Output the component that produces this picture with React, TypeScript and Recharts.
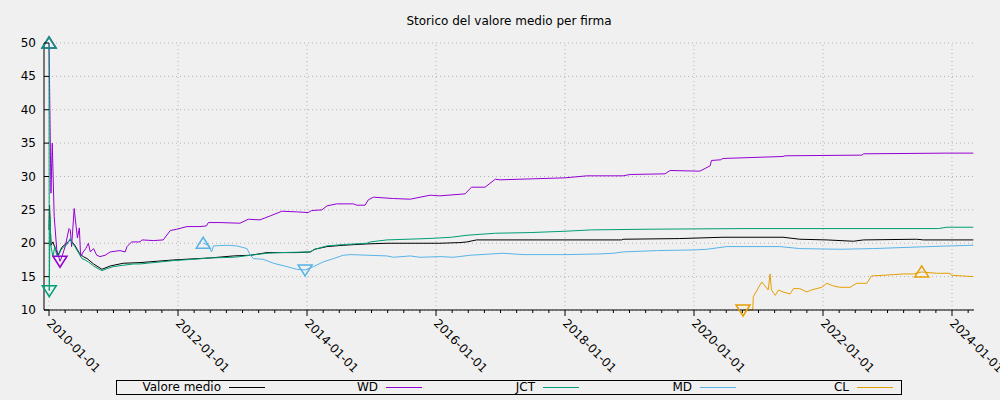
import React from 'react';
import { ComposedChart, Line, XAxis, YAxis, CartesianGrid, ReferenceLine } from 'recharts';

const title = 'Storico del valore medio per firma';
const seriesNames = ['Valore medio', 'WD', 'JCT', 'MD', 'CL'];
const seriesColors = ['#000000', '#9400d3', '#009e73', '#56b4e9', '#e69f00'];
const yTicks = [10, 15, 20, 25, 30, 35, 40, 45, 50];
const majorYears = [2010, 2012, 2014, 2016, 2018, 2020, 2022, 2024];

// [anno decimale, valore]
const valoreMedio: [number, number][] = [
  [2010.0, 22.0], [2010.008, 25.7], [2010.03, 19.7], [2010.06, 20.2], [2010.09, 19.4], [2010.14, 18.2],
  [2010.2, 19.4], [2010.27, 20.0], [2010.33, 20.5], [2010.4, 19.7], [2010.47, 18.5], [2010.53, 18.0],
  [2010.59, 17.7], [2010.69, 16.9], [2010.82, 16.1], [2010.95, 16.6], [2011.15, 17.0], [2011.41, 17.1],
  [2011.93, 17.5], [2012.5, 17.8], [2012.86, 18.1], [2013.12, 18.2], [2013.38, 18.6], [2013.84, 18.6],
  [2014.05, 18.7], [2014.12, 19.1], [2014.31, 19.5], [2014.56, 19.7], [2014.93, 19.9], [2015.24, 20.0],
  [2016.06, 20.0], [2016.37, 20.1], [2016.48, 20.2], [2016.63, 20.5], [2018.88, 20.5], [2018.9, 20.6],
  [2019.78, 20.7], [2020.45, 20.9], [2021.38, 20.9], [2021.64, 20.6], [2022.06, 20.5], [2022.47, 20.3],
  [2022.63, 20.5], [2023.45, 20.6], [2023.56, 20.5], [2024.33, 20.5],
];

const wd: [number, number][] = [
  [2010.0, 50.0], [2010.03, 27.5], [2010.05, 35.0], [2010.08, 24.0], [2010.12, 19.0], [2010.17, 17.3],
  [2010.2, 18.0], [2010.25, 19.5], [2010.31, 22.2], [2010.33, 22.0], [2010.35, 19.5], [2010.39, 25.2],
  [2010.42, 22.5], [2010.44, 20.8], [2010.47, 22.3], [2010.49, 18.0], [2010.53, 18.7], [2010.57, 19.2],
  [2010.61, 20.0], [2010.64, 18.7], [2010.69, 19.2], [2010.74, 18.2], [2010.79, 18.0], [2010.87, 18.2],
  [2010.95, 18.7], [2011.1, 18.9], [2011.18, 18.7], [2011.21, 19.5], [2011.28, 20.2], [2011.41, 20.2],
  [2011.44, 20.5], [2011.62, 20.4], [2011.77, 20.5], [2011.88, 21.9], [2011.98, 22.1], [2012.14, 22.5],
  [2012.34, 22.5], [2012.44, 22.6], [2012.47, 23.1], [2012.65, 23.1], [2012.96, 23.0], [2013.09, 23.6],
  [2013.27, 23.5], [2013.43, 24.1], [2013.61, 24.8], [2013.84, 24.7], [2014.02, 24.6], [2014.07, 24.9],
  [2014.23, 25.0], [2014.31, 25.6], [2014.46, 25.9], [2014.72, 25.9], [2014.77, 25.7], [2014.9, 25.7],
  [2014.95, 26.5], [2015.03, 26.9], [2015.34, 26.7], [2015.6, 26.6], [2015.91, 27.2], [2016.06, 27.1],
  [2016.45, 27.4], [2016.55, 28.4], [2016.76, 28.4], [2016.92, 29.6], [2016.99, 29.5], [2018.0, 29.8],
  [2018.34, 30.1], [2018.9, 30.1], [2019.01, 30.3], [2019.55, 30.4], [2019.63, 30.9], [2020.09, 30.8],
  [2020.25, 31.6], [2020.27, 32.4], [2020.41, 32.5], [2020.45, 32.7], [2021.38, 33.0], [2021.41, 33.1],
  [2022.6, 33.2], [2022.63, 33.4], [2023.92, 33.5], [2024.33, 33.5],
];

const jct: [number, number][] = [
  [2010.0, 50.0], [2010.004, 12.9], [2010.016, 23.8], [2010.031, 19.5], [2010.06, 18.0], [2010.09, 19.5],
  [2010.12, 18.2], [2010.14, 18.0], [2010.18, 18.9], [2010.22, 19.4], [2010.27, 19.7], [2010.33, 20.7],
  [2010.35, 20.2], [2010.4, 19.5], [2010.45, 18.7], [2010.51, 17.7], [2010.56, 17.5], [2010.61, 17.2],
  [2010.69, 16.6], [2010.76, 16.2], [2010.82, 15.9], [2010.9, 16.2], [2011.0, 16.5], [2011.15, 16.7],
  [2011.31, 16.9], [2011.41, 16.9], [2011.62, 17.1], [2011.93, 17.4], [2012.24, 17.6], [2012.5, 17.8],
  [2012.86, 17.9], [2012.96, 18.0], [2013.12, 18.2], [2013.38, 18.5], [2013.58, 18.6], [2014.05, 18.7],
  [2014.12, 19.1], [2014.31, 19.6], [2014.56, 19.8], [2014.93, 20.0], [2014.98, 20.2], [2015.24, 20.5],
  [2015.86, 20.7], [2016.06, 20.8], [2016.24, 20.9], [2016.48, 21.2], [2016.92, 21.5], [2017.46, 21.6],
  [2018.0, 21.8], [2018.41, 22.0], [2019.27, 22.1], [2020.79, 22.2], [2023.79, 22.2], [2023.92, 22.4],
  [2024.33, 22.4],
];

const md: [number, number][] = [
  [2012.39, 20.0], [2012.47, 19.7], [2012.52, 18.7], [2012.55, 19.6], [2012.76, 19.7], [2012.91, 19.6],
  [2013.07, 19.2], [2013.12, 18.2], [2013.17, 17.7], [2013.32, 17.6], [2013.48, 17.0], [2013.69, 16.5],
  [2013.84, 16.1], [2013.97, 16.0], [2014.1, 16.5], [2014.25, 17.2], [2014.41, 17.7], [2014.56, 18.2],
  [2014.67, 18.3], [2015.24, 18.1], [2015.34, 17.9], [2015.6, 18.1], [2015.75, 17.9], [2016.06, 18.0],
  [2016.27, 17.9], [2016.53, 18.2], [2017.04, 18.5], [2017.35, 18.3], [2018.03, 18.3], [2018.54, 18.4],
  [2018.75, 18.5], [2018.9, 18.7], [2019.42, 18.9], [2019.99, 19.0], [2020.2, 19.1], [2020.51, 19.5],
  [2021.33, 19.5], [2021.64, 19.2], [2022.26, 19.1], [2022.78, 19.2], [2023.35, 19.4], [2023.97, 19.6],
  [2024.33, 19.7],
];

const cl: [number, number][] = [
  [2020.76, 10.0], [2020.91, 10.0], [2020.92, 12.0], [2021.05, 14.2], [2021.15, 13.0], [2021.18, 15.4],
  [2021.2, 13.0], [2021.26, 12.2], [2021.31, 13.0], [2021.38, 12.7], [2021.49, 12.4], [2021.54, 13.2],
  [2021.64, 13.2], [2021.75, 12.7], [2021.82, 13.0], [2021.98, 13.4], [2022.06, 14.0], [2022.16, 13.6],
  [2022.26, 13.4], [2022.42, 13.4], [2022.52, 14.0], [2022.68, 14.0], [2022.75, 15.1], [2022.94, 15.2],
  [2023.09, 15.3], [2023.25, 15.4], [2023.4, 15.4], [2023.53, 15.7], [2023.76, 15.5], [2023.97, 15.5],
  [2023.99, 15.2], [2024.17, 15.1], [2024.33, 15.0],
];

const allSeries = [valoreMedio, wd, jct, md, cl];
const withMarkers = [false, true, true, true, true];

const toRows = (pts: [number, number][]) => pts.map(([x, y]) => ({ x, y }));

// tacche secondarie ogni trimestre
const xTicks: number[] = [];
for (let q = 2010 * 4; q <= 2024.25 * 4; q++) xTicks.push(q / 4);

const gridColor = '#b4b4b4';

const XTick = (props: any) => {
  const { x, y, payload } = props;
  const v = payload.value;
  const major = Math.abs(v - Math.round(v)) < 1e-6 && Math.round(v) % 2 === 0;
  const lx = x - 3;
  const ly = y + 14;
  return (
    <g>
      <line x1={x} x2={x} y1={y} y2={y + (major ? 6 : 3)} stroke="#000" />
      {major && (
        <text x={lx} y={ly} transform={`rotate(45, ${lx}, ${ly})`} fontSize={12} fill="#000" fontFamily="DejaVu Sans">
          {`${Math.round(v)}-01-01`}
        </text>
      )}
    </g>
  );
};

const YTickLeft = (props: any) => {
  const { x, y, payload } = props;
  return (
    <g>
      <line x1={x} x2={x + 5} y1={y} y2={y} stroke="#000" />
      <text x={x - 8} y={y} textAnchor="end" dominantBaseline="central" fontSize={12} fill="#000" fontFamily="DejaVu Sans">
        {payload.value}
      </text>
    </g>
  );
};

const YTickRight = (props: any) => {
  const { x, y } = props;
  return <line x1={x - 5} x2={x} y1={y} y2={y} stroke="#000" />;
};

const makeDot = (pts: [number, number][], color: string) => {
  let maxI = 0;
  let minI = 0;
  pts.forEach(([, v], i) => {
    if (v > pts[maxI][1]) maxI = i;
    if (v < pts[minI][1]) minI = i;
  });
  return (props: any) => {
    const { cx, cy, index, key } = props;
    if (index === maxI) {
      return (
        <polygon key={key} points={`${cx},${cy - 6} ${cx - 7},${cy + 5} ${cx + 7},${cy + 5}`}
          fill="none" stroke={color} strokeWidth={1.5} />
      );
    }
    if (index === minI) {
      return (
        <polygon key={key} points={`${cx - 7},${cy - 5} ${cx + 7},${cy - 5} ${cx},${cy + 6}`}
          fill="none" stroke={color} strokeWidth={1.5} />
      );
    }
    return <g key={key} />;
  };
};

export default function App() {
  return (
    <div style={{ position: 'absolute', left: 0, top: 0, width: 1000, height: 400, background: '#f0f0f0', fontFamily: 'DejaVu Sans', overflow: 'hidden' }}>
      <div style={{ position: 'absolute', left: 309, width: 400, top: 14, textAlign: 'center', fontSize: 12, color: '#000' }}>
        {title}
      </div>
      <ComposedChart width={1000} height={400} margin={{ top: 43, right: 26, left: 0, bottom: 0 }}>
        <CartesianGrid yAxisId="left" vertical={false} stroke={gridColor} strokeDasharray="1 3" />
        <XAxis
          dataKey="x"
          type="number"
          domain={[2009.922, 2024.341]}
          ticks={xTicks}
          interval={0}
          tickSize={0}
          tickMargin={0}
          tickLine={false}
          tick={<XTick />}
          axisLine={{ stroke: '#000' }}
          height={90}
        />
        <YAxis
          yAxisId="left"
          type="number"
          domain={[10, 50]}
          ticks={yTicks}
          interval={0}
          tickSize={0}
          tickMargin={0}
          tickLine={false}
          tick={<YTickLeft />}
          axisLine={{ stroke: '#000' }}
          width={44}
        />
        <YAxis
          yAxisId="right"
          orientation="right"
          type="number"
          domain={[10, 50]}
          ticks={yTicks}
          interval={0}
          tickSize={0}
          tickMargin={0}
          tickLine={false}
          tick={<YTickRight />}
          axisLine={{ stroke: '#000' }}
          width={0}
        />
        {majorYears.map((yr) => (
          <ReferenceLine key={yr} x={yr} yAxisId="left" stroke={gridColor} strokeDasharray="1 3" />
        ))}
        {allSeries.map((pts, i) => (
          <Line
            key={seriesNames[i]}
            yAxisId="left"
            data={toRows(pts)}
            dataKey="y"
            name={seriesNames[i]}
            type="linear"
            stroke={seriesColors[i]}
            strokeWidth={1}
            dot={withMarkers[i] ? makeDot(pts, seriesColors[i]) : false}
            activeDot={false}
            isAnimationActive={false}
          />
        ))}
      </ComposedChart>
      <div style={{ position: 'absolute', left: 116, top: 380, width: 786, height: 15, border: '1px solid #000', boxSizing: 'border-box' }}>
        {seriesNames.map((name, i) => (
          <React.Fragment key={name}>
            <div style={{ position: 'absolute', left: 157 * i, width: 104, top: -1, textAlign: 'right', fontSize: 12, lineHeight: '15px', color: '#000', whiteSpace: 'nowrap' }}>
              {name}
            </div>
            <div style={{ position: 'absolute', left: 157 * i + 112, width: 36, top: 6, height: 1, background: seriesColors[i] }} />
          </React.Fragment>
        ))}
      </div>
    </div>
  );
}
